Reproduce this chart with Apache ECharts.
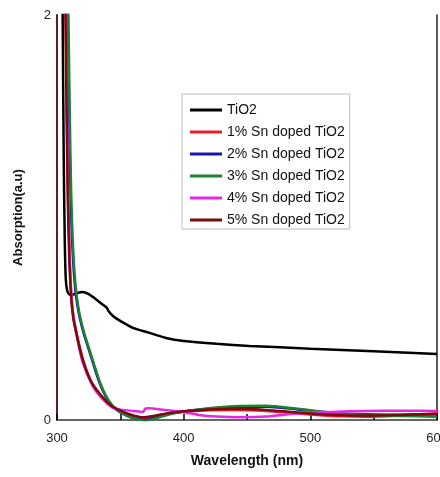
<!DOCTYPE html>
<html><head><meta charset="utf-8">
<script src="https://cdn.jsdelivr.net/npm/echarts@6/dist/echarts.min.js"></script>
<style>html,body{margin:0;padding:0;background:#fff}#c{width:440px;height:477px}</style>
</head><body><div id="c"></div>
<script>
var seriesNames = ['TiO2','1% Sn doped TiO2','2% Sn doped TiO2','3% Sn doped TiO2','4% Sn doped TiO2','5% Sn doped TiO2'];
var xTicks = [300, 400, 500, 600];
var yTicks = [0, 2];
var tio2 = [[304.4,2.05],[305.3,1.3],[306.1,0.9],[306.9,0.7],[308,0.64],[309.5,0.622],[311.5,0.617],[315,0.625],[320,0.632],[325,0.622],[330,0.6],[336,0.57],[339.5,0.553],[340.5,0.54],[344,0.515],[348,0.497],[354,0.475],[360,0.455],[373,0.43],[386,0.405],[400,0.39],[426,0.376],[452,0.366],[500,0.352],[550,0.34],[600,0.326]];
var sn1 = [[306.9,2.05],[307.9,1.5],[308.8,1.1],[309.9,0.82],[311.3,0.62],[313,0.51],[315.5,0.43],[318,0.36],[320.5,0.3],[324,0.235],[328,0.18],[335,0.12],[342,0.075],[350,0.045],[358,0.025],[368,0.01],[378,0.02],[390,0.035],[400,0.04],[420,0.048],[440,0.05],[465,0.045],[485,0.035],[505,0.025],[525,0.018],[545,0.016],[570,0.022],[600,0.033]];
var sn2 = [[308.4,2.05],[309.6,1.5],[310.7,1.12],[312.2,0.85],[314.2,0.66],[316.8,0.54],[320.5,0.44],[324.5,0.36],[329,0.27],[333.5,0.185],[338.5,0.115],[343.5,0.07],[349.5,0.04],[355,0.022],[362,0.006],[370,0.0],[380,0.015],[390,0.032],[400,0.042],[420,0.055],[440,0.064],[465,0.066],[490,0.052],[517,0.036],[544,0.028],[570,0.026],[600,0.028]];
var sn3 = [[308.9,2.05],[310.1,1.5],[311.2,1.12],[312.7,0.85],[314.7,0.66],[317.3,0.54],[321,0.44],[325,0.36],[329.5,0.27],[334,0.185],[339,0.115],[344,0.07],[350,0.04],[355,0.022],[362,0.005],[370,-0.005],[380,0.012],[390,0.03],[400,0.042],[420,0.058],[440,0.068],[465,0.07],[490,0.055],[517,0.035],[544,0.025],[570,0.02],[600,0.016]];
var sn4 = [[306.9,2.05],[307.9,1.5],[308.8,1.1],[309.9,0.82],[311.3,0.62],[313,0.5],[315.5,0.42],[320,0.29],[328,0.17],[335,0.11],[344,0.06],[352,0.05],[360,0.045],[368,0.04],[369.5,0.055],[372,0.058],[385,0.05],[399,0.04],[412,0.025],[426,0.017],[445,0.013],[465,0.017],[491,0.033],[517,0.04],[544,0.045],[570,0.046],[600,0.045]];
var sn5 = [[306.6,2.05],[307.6,1.5],[308.5,1.1],[309.6,0.82],[311,0.62],[312.7,0.51],[315.2,0.43],[317.7,0.36],[320.2,0.3],[323.7,0.235],[327.7,0.18],[335,0.12],[342,0.075],[350,0.046],[358,0.027],[368,0.013],[378,0.022],[390,0.036],[400,0.043],[420,0.052],[440,0.055],[465,0.05],[485,0.04],[505,0.03],[525,0.024],[545,0.022],[570,0.025],[600,0.03]];
var colors = ['#000000','#e61e2a','#1414b4','#1e8232','#e628e6','#7a0c0c'];
var dataSets = [tio2, sn1, sn2, sn3, sn4, sn5];

var chart = echarts.init(document.getElementById('c'), null, {renderer:'canvas'});
var series = seriesNames.map(function(n,i){
  return {name:n, type:'line', data:dataSets[i], showSymbol:false, symbol:'none', smooth:0.25,
    lineStyle:{width:2.5, color:colors[i]}, itemStyle:{color:colors[i]}, clip:true, z: 2+i};
});
chart.setOption({
  animation:false,
  grid:{left:57, right:3, top:15, bottom:57, containLabel:false, outerBoundsMode:'none'},
  legend:{
    data:seriesNames, orient:'vertical', left:182, top:94,
    icon:'path://M0,0H32V3H0Z',
    padding:[9,5,2,8], itemGap:8, itemWidth:32, itemHeight:14,
    borderColor:'#bbbbbb', borderWidth:1, backgroundColor:'#fff',
    textStyle:{fontFamily:'Liberation Sans, Arial', fontSize:14, color:'#111'}
  },
  xAxis:[{
    type:'value', min:300, max:600, interval:50,
    name:'Wavelength (nm)', nameLocation:'middle', nameGap:34,
    nameTextStyle:{fontFamily:'Liberation Sans, Arial', fontWeight:'bold', fontSize:14, color:'#111'},
    axisLine:{show:true, lineStyle:{color:'#000', width:2}},
    axisTick:{show:true, inside:true, length:6, lineStyle:{color:'#000', width:1.5}},
    axisLabel:{fontFamily:'Liberation Sans, Arial', fontSize:13, color:'#222', margin:12, hideOverlap:false,
      formatter:function(v){return xTicks.indexOf(v)>=0 ? String(v) : '';}},
    splitLine:{show:false}
  },{
    type:'value', min:300, max:600, position:'top',
    axisLine:{show:true, lineStyle:{color:'#888', width:1.5}},
    axisTick:{show:false}, axisLabel:{show:false}, splitLine:{show:false}
  }],
  yAxis:[{
    type:'value', min:0, max:2, interval:2,
    name:'Absorption(a.u)', nameLocation:'middle', nameGap:32,
    nameTextStyle:{fontFamily:'Liberation Sans, Arial', fontWeight:'bold', fontSize:13, color:'#111'},
    axisLine:{show:true, lineStyle:{color:'#6a1a1a', width:2}},
    axisTick:{show:false},
    axisLabel:{fontFamily:'Liberation Sans, Arial', fontSize:13, color:'#222', margin:6,
      formatter:function(v){return yTicks.indexOf(v)>=0 ? String(v) : '';}},
    splitLine:{show:false}
  },{
    type:'value', min:0, max:2, position:'right',
    axisLine:{show:true, lineStyle:{color:'#222', width:1.5}},
    axisTick:{show:false}, axisLabel:{show:false}, splitLine:{show:false}
  }],
  series:series
});
</script>
</body></html>
